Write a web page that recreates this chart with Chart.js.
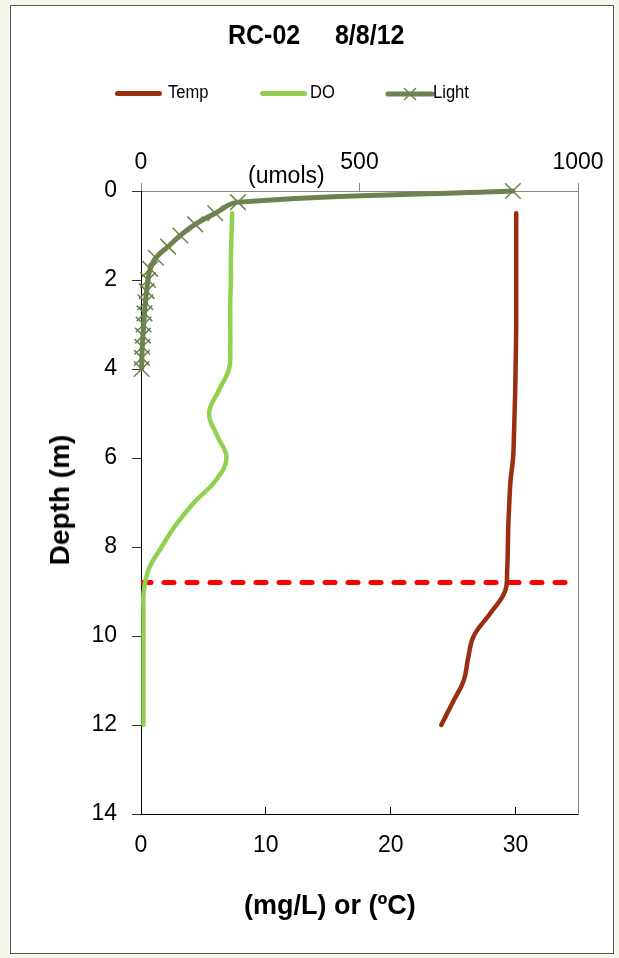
<!doctype html>
<html lang="en">
<head>
<meta charset="utf-8" />
<title>RC-02 8/8/12</title>
<script src="https://cdn.jsdelivr.net/npm/chart.js@4"></script>
<style>
  html, body { margin: 0; padding: 0; }
  body { width: 619px; height: 958px; background: #f6f6ec; position: relative; overflow: hidden;
         font-family: "Liberation Sans", Arial, sans-serif; color: #000; }
  .frame { position: absolute; left: 10px; top: 5px; width: 604px; height: 949px; background: #fff;
           border: 1px solid #595959; box-sizing: border-box; }
  .wrap { position: absolute; left: 0; top: 0; width: 619px; height: 958px; }
  .txt { position: absolute; white-space: pre; line-height: 1; }
  .sw { position: absolute; height: 5px; border-radius: 3px; }
  #title { left: 228px; top: 21px; font-size: 25px; font-weight: bold; transform-origin: 0 0; transform: scaleY(1.08); }
  .leg { top: 83px; font-size: 18px; transform-origin: 0 0; transform: scaleX(0.92); }
  #umols { left: 248px; top: 164px; font-size: 23px; }
  #ytitle { left: 60px; top: 500px; font-size: 28px; font-weight: bold; transform: translate(-50%, -50%) rotate(-90deg); }
  #xtitle { left: 244px; top: 892px; font-size: 27px; font-weight: bold; }
</style>
</head>
<body>
<div class="frame"></div>
<div class="wrap"><canvas id="chart"></canvas></div>

<div class="txt" id="title">RC-02     8/8/12</div>

<!-- legend -->
<div class="sw" style="left:115px; top:91px; width:47px; background:#9A2F10"></div>
<div class="txt leg" style="left:168px">Temp</div>
<div class="sw" style="left:260px; top:91px; width:47px; background:#92D050"></div>
<div class="txt leg" style="left:310px">DO</div>
<svg style="position:absolute; left:385px; top:86px" width="50" height="16">
  <line x1="3" y1="8" x2="47" y2="8" stroke="#6E8250" stroke-width="5" stroke-linecap="round" />
  <line x1="19" y1="2" x2="31" y2="14" stroke="#6E8250" stroke-width="1.5" />
  <line x1="31" y1="2" x2="19" y2="14" stroke="#6E8250" stroke-width="1.5" />
</svg>
<div class="txt leg" style="left:433px">Light</div>

<div class="txt" id="umols">(umols)</div>
<div class="txt" id="ytitle">Depth (m)</div>
<div class="txt" id="xtitle">(mg/L) or (ºC)</div>

<script>
// tick labels
const depthTicks = [0, 2, 4, 6, 8, 10, 12, 14];
const bottomTicks = [0, 10, 20, 30];
const lightTicks = [0, 500, 1000];

// temperature and dissolved oxygen profile, every 0.5 m
const profileDepth = [0.5, 1, 1.5, 2, 2.5, 3, 3.5, 4, 4.5, 5, 5.5, 6, 6.5, 7, 7.5, 8, 8.5, 9, 9.5, 10, 10.5, 11, 11.5, 12];
const tempC = [30.05, 30.05, 30.05, 30.05, 30.05, 30.05, 30.03, 30.0, 29.97, 29.92, 29.87, 29.8,
               29.6, 29.5, 29.42, 29.38, 29.33, 29.15, 27.95, 26.65, 26.2, 25.85, 24.95, 24.05];
const doMgL = [7.3, 7.25, 7.2, 7.2, 7.15, 7.15, 7.15, 7.05, 6.2, 5.45, 6.1, 6.85,
               6.0, 4.25, 2.8, 1.65, 0.62, 0.22, 0.2, 0.2, 0.2, 0.2, 0.2, 0.2];

// light profile, every 0.25 m
const lightDepth = [0, 0.25, 0.5, 0.75, 1, 1.25, 1.5, 1.75, 2, 2.25, 2.5, 2.75, 3, 3.25, 3.5, 3.75, 4];
const lightUmol = [851, 222, 170, 124, 90, 62, 34, 21, 16, 13, 10, 8, 6, 4.5, 3, 2, 1.5];

// thermocline marker
const thermoDepth = 8.8;
const thermoX = [0, 34.2];

Chart.defaults.font.family = '"Liberation Sans", Arial, sans-serif';
Chart.defaults.color = "#000";

const pts = (xs, ys) => xs.map((x, i) => ({ x, y: ys[i] }));
const fixTicks = (vals) => (scale) => { scale.ticks = vals.map((v) => ({ value: v })); };
const plain = (v) => String(v);

new Chart(document.getElementById("chart"), {
  type: "line",
  data: {
    datasets: [
      {
        label: "Light",
        data: pts(lightUmol, lightDepth),
        xAxisID: "x2", yAxisID: "y",
        borderColor: "#6E8250", borderWidth: 5, tension: 0.4,
        borderCapStyle: "round", borderJoinStyle: "round",
        pointStyle: "crossRot", pointRadius: 11, pointBorderWidth: 1.5,
        pointBorderColor: "#6E8250", pointBackgroundColor: "#6E8250",
        clip: false, order: 1,
      },
      {
        label: "DO",
        data: pts(doMgL, profileDepth),
        xAxisID: "x", yAxisID: "y",
        borderColor: "#92D050", borderWidth: 4.5, tension: 0.4,
        borderCapStyle: "round", borderJoinStyle: "round",
        pointRadius: 0, order: 2,
      },
      {
        label: "Temp",
        data: pts(tempC, profileDepth),
        xAxisID: "x", yAxisID: "y",
        borderColor: "#9A2F10", borderWidth: 4.5, tension: 0.4,
        borderCapStyle: "round", borderJoinStyle: "round",
        pointRadius: 0, order: 3,
      },
      {
        label: "Thermocline",
        data: thermoX.map((x) => ({ x, y: thermoDepth })),
        xAxisID: "x", yAxisID: "y",
        borderColor: "#FF0000", borderWidth: 5, borderDash: [10, 13],
        borderCapStyle: "round",
        pointRadius: 0, order: 4,
      },
    ],
  },
  options: {
    responsive: true,
    maintainAspectRatio: false,
    animation: false,
    events: [],
    layout: { padding: 0 },
    plugins: { legend: { display: false }, tooltip: { enabled: false } },
    scales: {
      x: {
        type: "linear", position: "bottom", min: 0, max: 35,
        afterBuildTicks: fixTicks(bottomTicks),
        afterFit: (s) => { s.height = 144; },
        grid: { drawOnChartArea: false, color: "#000", tickLength: -7 },
        border: { color: "#000", width: 1 },
        ticks: { font: { size: 23 }, padding: 25, maxRotation: 0, autoSkip: false, callback: plain },
      },
      x2: {
        type: "linear", position: "top", min: 0, max: 1000,
        afterBuildTicks: fixTicks(lightTicks),
        afterFit: (s) => { s.height = 191; },
        grid: { drawOnChartArea: false, color: "#888", tickLength: 8 },
        border: { color: "#888", width: 1 },
        ticks: { font: { size: 23 }, padding: 7, maxRotation: 0, autoSkip: false, callback: plain },
      },
      y: {
        type: "linear", position: "left", reverse: true, min: 0, max: 14,
        afterBuildTicks: fixTicks(depthTicks),
        afterFit: (s) => { s.width = 141; },
        grid: { drawOnChartArea: false, color: "#333", tickLength: 9 },
        border: { color: "#000", width: 1 },
        ticks: { font: { size: 23 }, padding: 15, autoSkip: false, callback: plain },
      },
      y2: {
        type: "linear", position: "right", reverse: true, min: 0, max: 14,
        afterFit: (s) => { s.width = 41; },
        grid: { drawOnChartArea: false, drawTicks: false },
        border: { color: "#888", width: 1 },
        ticks: { display: false },
      },
    },
  },
});
</script>
</body>
</html>
